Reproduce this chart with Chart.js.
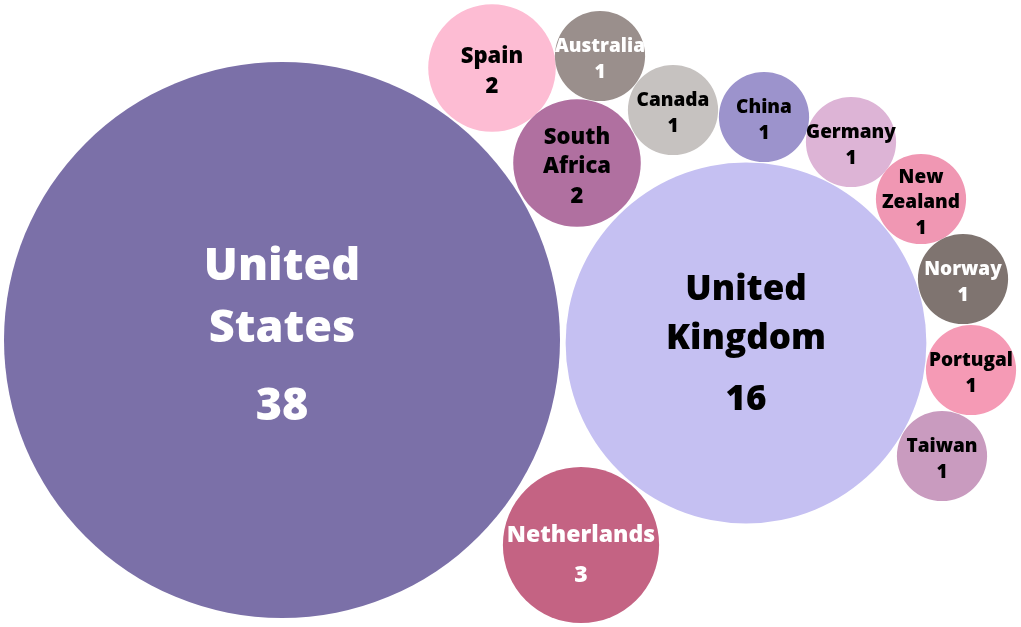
<!DOCTYPE html>
<html>
<head>
<meta charset="utf-8">
<script src="https://cdn.jsdelivr.net/npm/chart.js@4.4.1/dist/chart.umd.min.js"></script>
<style>
  html, body { margin: 0; padding: 0; background: #fff; }
  #wrap { width: 1021px; height: 627px; position: relative; }
</style>
</head>
<body>
<div id="wrap"><canvas id="chart"></canvas></div>
<script>
// countries and counts
const countries = ['United States', 'United Kingdom', 'Netherlands', 'Spain', 'South Africa', 'Australia',
    'Canada', 'China', 'Germany', 'New Zealand', 'Norway', 'Portugal', 'Taiwan'];
const counts = [38, 16, 3, 2, 2, 1, 1, 1, 1, 1, 1, 1, 1];
// label lines shown inside each bubble
const labelLines = [['United', 'States'], ['United', 'Kingdom'], ['Netherlands'], ['Spain'], ['South', 'Africa'],
    ['Australia'], ['Canada'], ['China'], ['Germany'], ['New', 'Zealand'], ['Norway'], ['Portugal'], ['Taiwan']];
// packed layout position of each bubble (axis units)
const posX = [282, 746, 581, 492, 577, 600, 673, 764, 851, 921, 963, 971, 942];
const posY = [340, 343, 545, 68, 163, 56, 110, 117, 142, 199, 279, 370, 456];

// styling
const fills = ['#7b70a8', '#c5c0f2', '#c46383', '#fdbcd3', '#b070a0', '#9a8f8c',
    '#c6c2c0', '#9c93cc', '#ddb4d6', '#f097b3', '#7f7470', '#f59ab5', '#c99bbf'];
const textColors = ['#fff', '#000', '#fff', '#000', '#000', '#fff',
    '#000', '#000', '#000', '#000', '#fff', '#000', '#000'];
const fontSizes = [45, 35, 23, 22, 22, 19, 19, 19, 19, 19, 19, 19, 19];
const textShift = [-3, 2, 10, 4, 4, 4, 4, 4, 4, 4, 4, 4, 4];
const pxPerRootUnit = 278 / Math.sqrt(38); // bubble area proportional to count

const bubbleLabels = {
    id: 'bubbleLabels',
    afterDatasetsDraw(chart) {
        const ctx = chart.ctx;
        const meta = chart.getDatasetMeta(0);
        ctx.save();
        ctx.textAlign = 'center';
        ctx.textBaseline = 'middle';
        meta.data.forEach((el, i) => {
            const fs = fontSizes[i];
            const big = fs >= 23;
            const lines = labelLines[i];
            const step = fs * (big ? 1.38 : 1.33);
            const numGap = fs * (big ? 1.74 : 1.36);
            const total = (lines.length - 1) * step + numGap;
            let y = el.y - total / 2 + textShift[i];
            ctx.fillStyle = textColors[i];
            ctx.font = `800 ${fs}px "Open Sans", sans-serif`;
            lines.forEach((ln, k) => {
                ctx.fillText(ln, el.x, y + k * step);
            });
            ctx.fillText(String(counts[i]), el.x, y + (lines.length - 1) * step + numGap);
        });
        ctx.restore();
    }
};

new Chart(document.getElementById('chart'), {
    type: 'bubble',
    data: {
        datasets: [{
            label: 'Countries',
            data: countries.map((c, i) => ({ x: posX[i], y: posY[i], r: pxPerRootUnit * Math.sqrt(counts[i]) })),
            backgroundColor: fills,
            hoverBackgroundColor: fills,
            borderWidth: 0,
            hoverBorderWidth: 0,
            clip: false
        }]
    },
    options: {
        responsive: true,
        maintainAspectRatio: false,
        animation: false,
        layout: { padding: 0, autoPadding: false },
        scales: {
            x: { type: 'linear', min: 0, max: 1021, display: false },
            y: { type: 'linear', min: 0, max: 627, reverse: true, display: false }
        },
        plugins: {
            legend: { display: false },
            tooltip: { enabled: false }
        }
    },
    plugins: [bubbleLabels]
});
</script>
</body>
</html>
